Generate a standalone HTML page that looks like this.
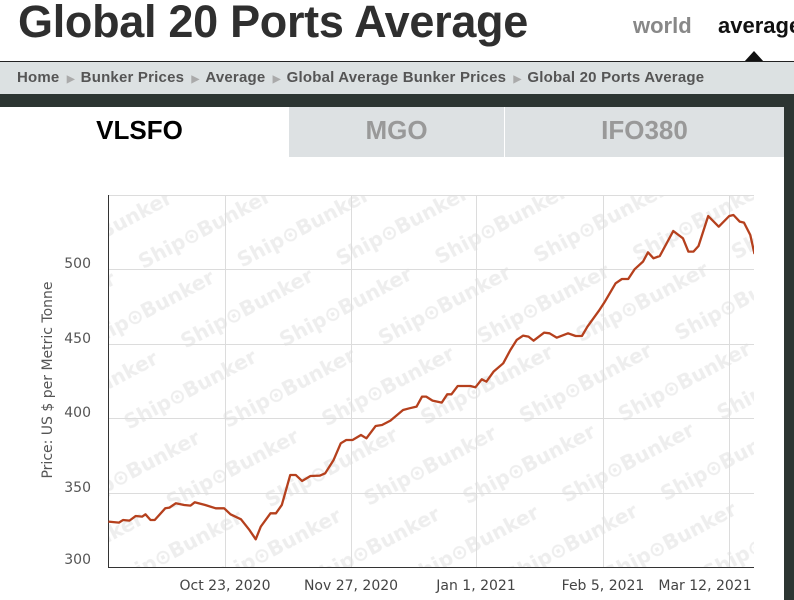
<!DOCTYPE html>
<html><head><meta charset="utf-8"><style>
body{margin:0;width:794px;height:600px;overflow:hidden;background:#fff;font-family:"Liberation Sans",sans-serif;position:relative}
.a{position:absolute}
</style></head><body>
<div class="a" style="left:18px;top:-4px;font-size:45px;font-weight:bold;color:#2f2f2f;letter-spacing:-0.3px">Global 20 Ports Average</div>
<div class="a" style="left:633px;top:13px;font-size:22px;font-weight:bold;color:#888">world</div>
<div class="a" style="left:718px;top:13px;font-size:22px;font-weight:bold;color:#111;white-space:nowrap">average</div>
<div class="a" style="left:744px;top:51px;width:0;height:0;border-left:10px solid transparent;border-right:10px solid transparent;border-bottom:11px solid #111"></div>
<div class="a" style="left:0;top:61px;width:794px;height:1px;background:#222"></div>
<div class="a" style="left:0;top:62px;width:794px;height:32px;background:#dce1e2"></div>
<div class="a" style="left:17px;top:69px;font-size:15px;font-weight:bold;color:#555;white-space:nowrap;letter-spacing:0.2px">Home <span style="color:#aaa;font-size:10px">&nbsp;▶&nbsp;&nbsp;</span>Bunker Prices <span style="color:#aaa;font-size:10px">&nbsp;▶&nbsp;&nbsp;</span>Average <span style="color:#aaa;font-size:10px">&nbsp;▶&nbsp;&nbsp;</span>Global Average Bunker Prices <span style="color:#aaa;font-size:10px">&nbsp;▶&nbsp;&nbsp;</span>Global 20 Ports Average</div>
<div class="a" style="left:0;top:94px;width:794px;height:13px;background:#2c3532"></div>
<div class="a" style="left:784px;top:94px;width:10px;height:506px;background:#2c3532"></div>
<div class="a" style="left:289px;top:107px;width:215px;height:50px;background:#dde1e3"></div>
<div class="a" style="left:505px;top:107px;width:279px;height:50px;background:#dde1e3"></div>
<div class="a" style="left:0;top:115px;width:279px;text-align:center;font-size:26px;font-weight:bold;color:#000">VLSFO</div>
<div class="a" style="left:289px;top:115px;width:215px;text-align:center;font-size:26px;font-weight:bold;color:#999">MGO</div>
<div class="a" style="left:505px;top:115px;width:279px;text-align:center;font-size:26px;font-weight:bold;color:#999">IFO380</div>
<svg class="a" style="left:0;top:0" width="784" height="600" font-family="DejaVu Sans, sans-serif">
<defs><pattern id="wm" width="176" height="90" patternUnits="userSpaceOnUse" patternTransform="rotate(-28)">
<text x="0" y="35" font-size="20" font-weight="bold" fill="#eeeeee">Ship⊙Bunker</text>
<text x="88" y="80" font-size="20" font-weight="bold" fill="#eeeeee">Ship⊙Bunker</text>
<text x="-88" y="80" font-size="20" font-weight="bold" fill="#eeeeee">Ship⊙Bunker</text></pattern>
<clipPath id="c"><rect x="108" y="195" width="646" height="372"/></clipPath></defs>
<rect x="108" y="195" width="646" height="372" fill="url(#wm)"/>
<g stroke="#dcdcdc" stroke-width="1">
<line x1="108" y1="195.5" x2="754" y2="195.5"/><line x1="108" y1="269.5" x2="754" y2="269.5"/><line x1="108" y1="344.5" x2="754" y2="344.5"/><line x1="108" y1="418.5" x2="754" y2="418.5"/><line x1="108" y1="493.5" x2="754" y2="493.5"/>
<line x1="225.5" y1="195" x2="225.5" y2="567"/><line x1="351.5" y1="195" x2="351.5" y2="567"/><line x1="476.5" y1="195" x2="476.5" y2="567"/><line x1="603.5" y1="195" x2="603.5" y2="567"/><line x1="729.5" y1="195" x2="729.5" y2="567"/>
</g>
<line x1="108.5" y1="195" x2="108.5" y2="567" stroke="#333"/>
<line x1="108" y1="567.5" x2="754" y2="567.5" stroke="#333"/>
<g clip-path="url(#c)"><g transform="translate(100,180) scale(0.4209,0.3333)">
<polyline fill="none" stroke="#b5401d" stroke-width="2.3" vector-effect="non-scaling-stroke" stroke-linejoin="round" points="20,1025 45,1028 55,1020 70,1022 85,1008 100,1010 108,1003 120,1020 130,1020 155,985 165,983 180,970 200,975 215,977 225,967 250,975 275,985 295,985 310,1003 335,1018 355,1050 370,1078 382,1040 405,1000 418,1000 432,975 452,885 465,885 480,903 500,888 522,887 535,880 555,840 572,790 585,780 600,780 620,765 633,775 655,738 670,735 690,722 720,690 735,685 752,680 765,650 775,650 790,662 812,668 825,643 835,643 850,618 880,618 892,622 907,598 918,605 935,575 958,550 975,510 990,480 1005,467 1018,470 1030,482 1055,458 1068,460 1085,473 1112,460 1130,468 1145,468 1158,440 1185,393 1198,368 1225,310 1240,297 1255,297 1270,268 1290,245 1302,217 1315,235 1330,228 1362,153 1385,175 1398,215 1410,215 1422,198 1445,108 1470,140 1495,108 1505,105 1520,125 1530,128 1545,165 1555,222"/>
</g></g>
<g font-size="14" fill="#555" text-anchor="end">
<text x="91" y="268">500</text><text x="91" y="343">450</text><text x="91" y="417">400</text><text x="91" y="492">350</text><text x="91" y="564">300</text>
</g>
<g font-size="14" fill="#444" text-anchor="middle">
<text x="225" y="590">Oct 23, 2020</text><text x="351" y="590">Nov 27, 2020</text><text x="476" y="590">Jan 1, 2021</text><text x="603" y="590">Feb 5, 2021</text><text x="705" y="590">Mar 12, 2021</text>
</g>
<text transform="translate(52,380) rotate(-90)" font-size="14" fill="#555" text-anchor="middle">Price: US $ per Metric Tonne</text>
</svg>
</body></html>
